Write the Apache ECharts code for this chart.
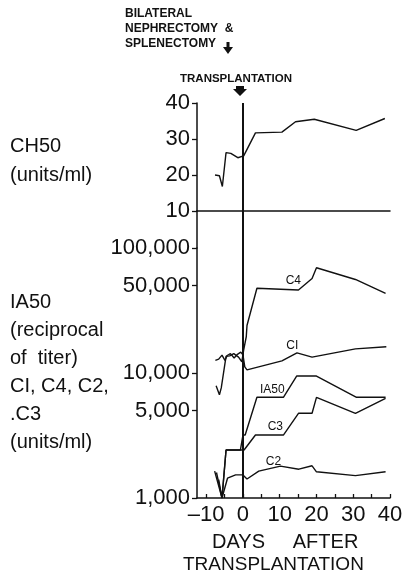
<!DOCTYPE html>
<html lang="en">
<head>
    <meta charset="utf-8">
    <title>CH50 and complement after transplantation</title>
    <script src="https://cdn.jsdelivr.net/npm/echarts@6/dist/echarts.min.js"></script>
    <style>
        html, body {margin: 0; padding: 0; background: #fff;}
        #chart {width: 410px; height: 580px;}
    </style>
</head>
<body>
    <div id="chart"></div>
    <script>
        // values, [day, value]
        var ch50 = [[-7.6, 20.0], [-6.4, 19.8], [-5.6, 16.8], [-4.6, 26.2], [-3.3, 26.0],
            [-1.4, 24.8], [0.2, 25.3], [0.6, 25.3], [3.4, 31.7], [10.6, 31.9],
            [14.3, 34.8], [19.4, 35.5], [30.8, 32.4], [38.6, 35.7]];
        var c4 = [[-7.3, 7900], [-6.4, 6700], [-5.9, 7600], [-4.6, 13600], [-3.6, 13700],
            [-2.5, 14300], [-1.2, 13400], [-0.3, 12300], [0.2, 15300], [0.9, 19500],
            [1.1, 24000], [3.8, 47600], [15.1, 46100], [18.8, 57000], [20.0, 69500],
            [30.6, 56000], [38.8, 43400]];
        var c1 = [[-7.5, 12600], [-6.6, 12900], [-5.7, 13900], [-4.9, 12600], [-4.3, 13800],
            [-3.4, 14300], [-2.4, 13200], [-1.5, 14100], [-0.6, 14700], [0, 14000],
            [0.5, 11200], [1.1, 10600], [10.6, 12500], [14.7, 14500], [18.8, 13400],
            [30.6, 15600], [39.0, 16200]];
        var ia50 = [[-6.6, 1400], [-5.7, 1000], [-4.6, 2420], [-0.7, 2420], [0, 3190],
            [0.6, 3190], [3.8, 6390], [11.0, 6390], [14.6, 9460], [20.0, 9460],
            [30.9, 6390], [38.8, 6390]];
        var c3 = [[-7.2, 1600], [-5.7, 1000], [-4.6, 2420], [0.3, 2420], [3.4, 3190],
            [11.0, 3190], [15.1, 4760], [18.8, 4760], [20.0, 6390], [30.6, 4760],
            [38.8, 6280]];
        var c2 = [[-7.7, 1640], [-5.7, 1000], [-4.2, 1440], [-2.0, 1530], [0, 1530],
            [1.1, 1420], [4.3, 1640], [10.2, 1800], [15.2, 1700], [18.8, 1810],
            [20.0, 1620], [30.6, 1510], [38.8, 1620]];

        // series names and where their tags sit, [day, value]
        var names = ['C4', 'CI', 'IA50', 'C3', 'C2'];
        var tagAt = [[13.7, 54500], [13.4, 16400], [8.0, 7300], [8.8, 3700], [8.3, 1940]];

        var xTicks = [-10, -5, 0, 5, 10, 15, 20, 25, 30, 35, 40];
        var xLabels = [-10, 0, 10, 20, 30, 40];
        var logTicks = [1000, 5000, 10000, 50000, 100000];

        var ink = '#111';
        var font = 'Liberation Sans';
        var lineStyle = {color: ink, width: 1.4};
        var axisInk = {show: true, onZero: false, lineStyle: {color: ink, width: 1.5}};

        function line(data, grid, tag, tagPos) {
            var s = {
                type: 'line', data: data, xAxisIndex: grid, yAxisIndex: grid,
                symbol: 'none', lineStyle: lineStyle, silent: true, animation: false,
                clip: true
            };
            if (tag) {
                s.markPoint = {
                    symbol: 'circle', symbolSize: 0, silent: true, animation: false,
                    label: {show: true, formatter: tag, color: ink, fontFamily: font,
                        fontSize: 12, position: 'inside'},
                    data: [{coord: tagPos}]
                };
            }
            return s;
        }

        var dayLine = {
            symbol: 'none', silent: true, animation: false,
            label: {show: false},
            lineStyle: {color: ink, width: 2, type: 'solid'},
            data: [{xAxis: 0}]
        };

        var xBase = {type: 'value', min: -12.5, max: 40, splitLine: {show: false}};
        var chart = echarts.init(document.getElementById('chart'), null, {renderer: 'canvas'});
        chart.setOption({
            animation: false,
            backgroundColor: '#fff',
            grid: [
                {left: 197, top: 103, width: 193, height: 108},
                {left: 197, top: 211, width: 193, height: 37},
                {left: 197, top: 248, width: 193, height: 250}
            ],
            xAxis: [
                Object.assign({gridIndex: 0}, xBase, {
                    axisLine: axisInk,
                    axisTick: {show: false}, axisLabel: {show: false}
                }),
                Object.assign({gridIndex: 1, show: false}, xBase),
                Object.assign({gridIndex: 2}, xBase, {
                    axisLine: axisInk,
                    axisTick: {show: true, inside: true, length: 4,
                        customValues: xTicks, lineStyle: {color: ink, width: 1.3}},
                    axisLabel: {customValues: xLabels, color: ink, fontFamily: font,
                        fontSize: 22, margin: 6,
                        formatter: function (v) { return String(v).replace('-', '\u2013'); }}
                })
            ],
            yAxis: [
                {
                    gridIndex: 0, type: 'value', min: 10, max: 40, interval: 10,
                    splitLine: {show: false},
                    axisLine: axisInk,
                    axisTick: {show: true, length: 5, lineStyle: {color: ink, width: 1.3}},
                    axisLabel: {color: ink, fontFamily: font, fontSize: 22, margin: 7}
                },
                {
                    gridIndex: 1, type: 'value', min: 0, max: 1,
                    splitLine: {show: false},
                    axisLine: axisInk,
                    axisTick: {show: false}, axisLabel: {show: false}
                },
                {
                    gridIndex: 2, type: 'log', logBase: 10, min: 1000, max: 100000,
                    splitLine: {show: false},
                    axisLine: axisInk,
                    axisTick: {show: true, length: 5, customValues: logTicks,
                        lineStyle: {color: ink, width: 1.3}},
                    axisLabel: {customValues: logTicks, color: ink, fontFamily: font,
                        fontSize: 22, margin: 7,
                        formatter: function (v) { return Math.round(v).toLocaleString('en-US'); }}
                }
            ],
            series: [
                Object.assign(line(ch50, 0), {markLine: dayLine}),
                {type: 'line', data: [], xAxisIndex: 1, yAxisIndex: 1, markLine: dayLine},
                Object.assign(line(c4, 2, names[0], tagAt[0]), {markLine: dayLine}),
                line(c1, 2, names[1], tagAt[1]),
                line(ia50, 2, names[2], tagAt[2]),
                line(c3, 2, names[3], tagAt[3]),
                line(c2, 2, names[4], tagAt[4])
            ],
            graphic: [
                {type: 'text', left: 125, top: 6, style: {text: 'BILATERAL\nNEPHRECTOMY  &\nSPLENECTOMY',
                    fill: ink, font: 'bold 12px "Liberation Sans"', lineHeight: 15}},
                {type: 'polygon', shape: {points: [[226.5, 42], [229.5, 42], [229.5, 47], [233, 47],
                    [228, 54], [223, 47], [226.5, 47]]}, style: {fill: ink}},
                {type: 'text', left: 180, top: 73, style: {text: 'TRANSPLANTATION',
                    fill: ink, font: 'bold 11.5px "Liberation Sans"'}},
                {type: 'polygon', shape: {points: [[236, 86], [244, 86], [244, 89], [247, 89],
                    [240, 96], [233, 89], [236, 89]]}, style: {fill: ink}},
                {type: 'text', left: 10, top: 132, style: {text: 'CH50\n(units/ml)',
                    fill: ink, font: '20px "Liberation Sans"', lineHeight: 29}},
                {type: 'text', left: 10, top: 288, style: {
                    text: 'IA50\n(reciprocal\nof  titer)\nCI, C4, C2,\n.C3\n(units/ml)',
                    fill: ink, font: '20px "Liberation Sans"', lineHeight: 28}},
                {type: 'text', left: 212, top: 532, style: {text: 'DAYS     AFTER',
                    fill: ink, font: '20px "Liberation Sans"'}},
                {type: 'text', left: 183, top: 555, style: {text: 'TRANSPLANTATION',
                    fill: ink, font: '19px "Liberation Sans"'}}
            ]
        });
    </script>
</body>
</html>
